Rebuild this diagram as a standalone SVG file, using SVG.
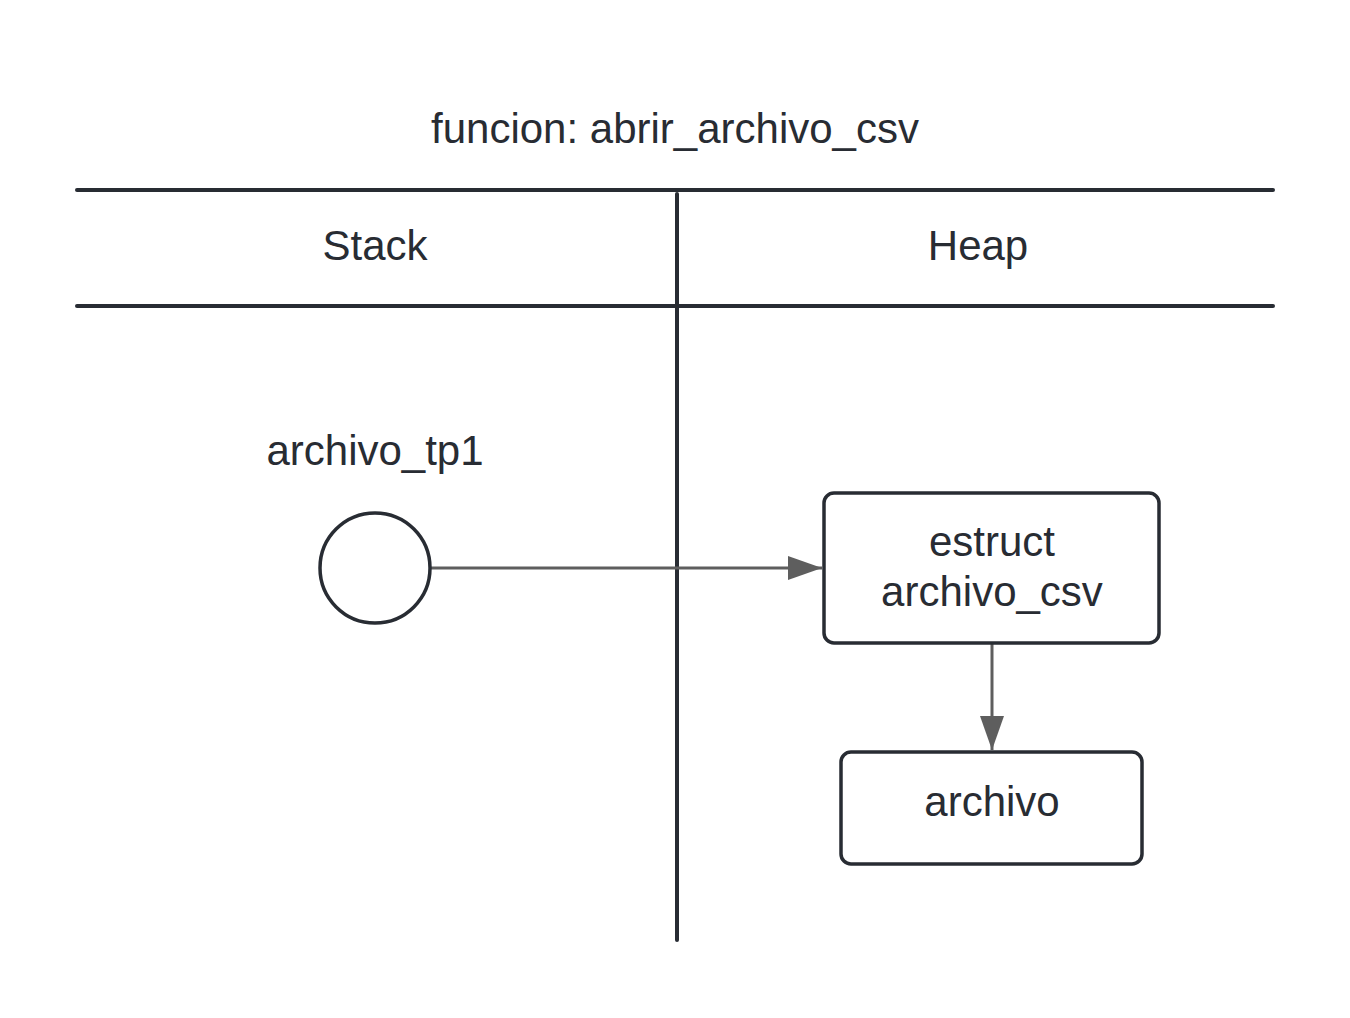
<svg xmlns="http://www.w3.org/2000/svg" width="1350" height="1018" viewBox="0 0 1350 1018">
<defs>
<style>
text{font-family:"Liberation Sans",Arial,sans-serif;font-size:42px;fill:#282c33;text-anchor:middle}
.frame{stroke:#282c33;stroke-width:4;stroke-linecap:round;fill:none}
.node{stroke:#282c33;stroke-width:3.5;fill:#ffffff}
.conn{stroke:#5e5e5e;stroke-width:3;fill:none}
</style>
<marker id="arr" markerUnits="userSpaceOnUse" markerWidth="36" markerHeight="24" refX="34" refY="12" orient="auto">
<path d="M0,0 L34,12 L0,24 Z" fill="#5e5e5e"/>
</marker>
</defs>
<rect width="1350" height="1018" fill="#ffffff"/>
<g id="frame">
<text x="675" y="143">funcion: abrir_archivo_csv</text>
<line class="frame" x1="77" y1="190" x2="1273" y2="190"/>
<line class="frame" x1="77" y1="306" x2="1273" y2="306"/>
<line class="frame" x1="677" y1="194" x2="677" y2="940" stroke-width="3"/>
<text x="375" y="260">Stack</text>
<text x="978" y="260">Heap</text>
</g>
<g id="connectors">
<line class="conn" x1="431" y1="568" x2="822" y2="568" marker-end="url(#arr)"/>
<line class="conn" x1="992" y1="644" x2="992" y2="750" marker-end="url(#arr)"/>
</g>
<g id="archivo_tp1">
<text x="375" y="465">archivo_tp1</text>
<circle class="node" cx="375" cy="568" r="55"/>
</g>
<g id="estruct_archivo_csv">
<rect class="node" x="824" y="493" width="335" height="150" rx="10"/>
<text x="992" y="556">estruct</text>
<text x="992" y="606">archivo_csv</text>
</g>
<g id="archivo">
<rect class="node" x="841" y="752" width="301" height="112" rx="10"/>
<text x="992" y="816">archivo</text>
</g>
</svg>
